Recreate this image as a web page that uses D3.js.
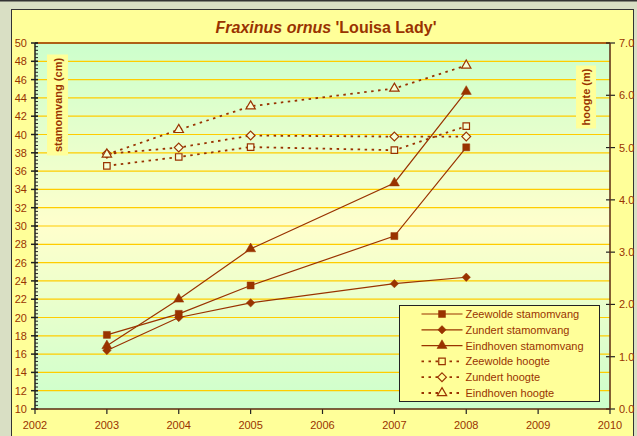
<!DOCTYPE html>
<html>
<head>
<meta charset="utf-8">
<script src="https://cdn.jsdelivr.net/npm/d3@7"></script>
<style>
  body { margin: 0; background: #d9dfc4; }
  svg { display: block; font-family: "Liberation Sans", Arial, sans-serif; }
</style>
</head>
<body>
<svg id="chart" width="637" height="436"></svg>
<script>
const years = [2003, 2004, 2005, 2007, 2008];
const zeewoldeStam = [18.1, 20.4, 23.5, 28.9, 38.6];
const zundertStam = [16.4, 20.0, 21.6, 23.7, 24.4];
const eindhovenStam = [16.9, 22.0, 27.5, 34.7, 44.7];
const zeewoldeHoogte = [4.65, 4.82, 5.01, 4.95, 5.41];
const zundertHoogte = [4.88, 5.0, 5.23, 5.21, 5.21];
const eindhovenHoogte = [4.87, 5.34, 5.79, 6.13, 6.57];

const xTicks = [2002, 2003, 2004, 2005, 2006, 2007, 2008, 2009, 2010];
const leftTicks = d3.range(10, 51, 2);
const rightTicks = [0, 1, 2, 3, 4, 5, 6, 7];

const series = [
  { name: "Zeewolde stamomvang", values: zeewoldeStam, axis: "left", marker: "square", filled: true },
  { name: "Zundert stamomvang", values: zundertStam, axis: "left", marker: "diamond", filled: true },
  { name: "Eindhoven stamomvang", values: eindhovenStam, axis: "left", marker: "triangle", filled: true },
  { name: "Zeewolde hoogte", values: zeewoldeHoogte, axis: "right", marker: "square", filled: false },
  { name: "Zundert hoogte", values: zundertHoogte, axis: "right", marker: "diamond", filled: false },
  { name: "Eindhoven hoogte", values: eindhovenHoogte, axis: "right", marker: "triangle", filled: false },
];

const brown = "#993300";
const plot = { left: 35, top: 43, right: 610, bottom: 409 };

const svg = d3.select("#chart");

// outer panel
svg.append("rect").attr("x", 0).attr("y", 0).attr("width", 637).attr("height", 1.5).attr("fill", "#333");
svg.append("rect")
  .attr("x", 11.5).attr("y", 9.5).attr("width", 622).attr("height", 440)
  .attr("fill", "#ffff99").attr("stroke", "#333").attr("stroke-width", 1);

const x = d3.scaleLinear().domain([2002, 2010]).range([plot.left, plot.right]);
const yLeft = d3.scaleLinear().domain([10, 50]).range([plot.bottom, plot.top]);
const yRight = d3.scaleLinear().domain([0, 7]).range([plot.bottom, plot.top]);

// plot background gradient
const grad = svg.append("defs").append("linearGradient")
  .attr("id", "bg").attr("x1", 0).attr("y1", 0).attr("x2", 0).attr("y2", 1);
grad.append("stop").attr("offset", "0%").attr("stop-color", "#ccffcc");
grad.append("stop").attr("offset", "50%").attr("stop-color", "#ffffcc");
grad.append("stop").attr("offset", "100%").attr("stop-color", "#ccffcc");

svg.append("rect")
  .attr("x", plot.left).attr("y", plot.top)
  .attr("width", plot.right - plot.left).attr("height", plot.bottom - plot.top)
  .attr("fill", "url(#bg)");

// gridlines
svg.append("g")
  .selectAll("line")
  .data(leftTicks.filter((d) => d > 10))
  .join("line")
  .attr("x1", plot.left).attr("x2", plot.right)
  .attr("y1", (d) => yLeft(d)).attr("y2", (d) => yLeft(d))
  .attr("stroke", "#ffcc00").attr("stroke-width", 1.2);

svg.append("line")
  .attr("x1", plot.left).attr("x2", plot.right)
  .attr("y1", plot.top).attr("y2", plot.top)
  .attr("stroke", brown).attr("stroke-width", 1.5);

// axis titles
function axisTitle(cx, cy, w, h, label) {
  svg.append("rect")
    .attr("x", cx - w / 2).attr("y", cy - h / 2).attr("width", w).attr("height", h)
    .attr("fill", "#ffff99");
  svg.append("text")
    .attr("transform", `translate(${cx + 4},${cy}) rotate(-90)`)
    .attr("text-anchor", "middle")
    .attr("font-size", 11).attr("font-weight", "bold")
    .attr("fill", brown)
    .text(label);
}
axisTitle(57.5, 105, 21, 101, "stamomvang (cm)");
axisTitle(586, 97, 20, 63, "hoogte (m)");

// markers: square, rotated square, triangle
function markerPath(type, filled) {
  if (type === "square") return d3.symbol().type(d3.symbolSquare).size(filled ? 49 : 42)();
  if (type === "diamond") {
    const r = filled ? 4.2 : 4.4;
    return `M0,${-r}L${r},0L0,${r}L${-r},0Z`;
  }
  return d3.symbol().type(d3.symbolTriangle).size(filled ? 44 : 38)();
}

// lines and markers
const lineFor = (s) => d3.line()
  .x((d, i) => x(years[i]))
  .y((d) => (s.axis === "left" ? yLeft(d) : yRight(d)));

series.forEach((s) => {
  svg.append("path")
    .datum(s.values)
    .attr("d", lineFor(s))
    .attr("fill", "none")
    .attr("stroke", brown)
    .attr("stroke-width", s.filled ? 1.2 : 1.8)
    .attr("stroke-dasharray", s.filled ? null : "2.5,4.5");
});

series.forEach((s) => {
  svg.append("g")
    .selectAll("path")
    .data(s.values)
    .join("path")
    .attr("transform", (d, i) => `translate(${x(years[i])},${s.axis === "left" ? yLeft(d) : yRight(d)})`)
    .attr("d", markerPath(s.marker, s.filled))
    .attr("fill", s.filled ? brown : "#f6ffd6")
    .attr("stroke", brown)
    .attr("stroke-width", s.filled ? 0.5 : 1.2);
});

// left axis
const leftAxis = svg.append("g");
leftAxis.selectAll("line.minor")
  .data(d3.range(10, 50.01, 0.4))
  .join("line")
  .attr("x1", plot.left).attr("x2", plot.left + 3)
  .attr("y1", (d) => yLeft(d)).attr("y2", (d) => yLeft(d))
  .attr("stroke", "#222").attr("stroke-width", 1);
leftAxis.selectAll("line.major")
  .data(leftTicks)
  .join("line")
  .attr("x1", plot.left - 4).attr("x2", plot.left + 3)
  .attr("y1", (d) => yLeft(d)).attr("y2", (d) => yLeft(d))
  .attr("stroke", "#222").attr("stroke-width", 1.5);
leftAxis.selectAll("text")
  .data(leftTicks)
  .join("text")
  .attr("x", plot.left - 8).attr("y", (d) => yLeft(d) + 4)
  .attr("text-anchor", "end").attr("font-size", 11).attr("fill", brown)
  .text((d) => d);
leftAxis.append("line")
  .attr("x1", plot.left).attr("x2", plot.left)
  .attr("y1", plot.top).attr("y2", plot.bottom)
  .attr("stroke", "#222").attr("stroke-width", 1.5);

// right axis
const rightAxis = svg.append("g");
rightAxis.selectAll("line")
  .data(rightTicks)
  .join("line")
  .attr("x1", plot.right - 4).attr("x2", plot.right + 5)
  .attr("y1", (d) => yRight(d)).attr("y2", (d) => yRight(d))
  .attr("stroke", "#222").attr("stroke-width", 1.2);
rightAxis.selectAll("text")
  .data(rightTicks)
  .join("text")
  .attr("x", plot.right + 9).attr("y", (d) => yRight(d) + 4)
  .attr("font-size", 11).attr("fill", brown)
  .text((d) => d3.format(".1f")(d));
rightAxis.append("line")
  .attr("x1", plot.right).attr("x2", plot.right)
  .attr("y1", plot.top).attr("y2", plot.bottom)
  .attr("stroke", "#5a2a10").attr("stroke-width", 1.5);

// x axis
const xAxis = svg.append("g");
xAxis.selectAll("line")
  .data(xTicks)
  .join("line")
  .attr("x1", (d) => x(d)).attr("x2", (d) => x(d))
  .attr("y1", plot.bottom).attr("y2", plot.bottom + 5)
  .attr("stroke", "#222").attr("stroke-width", 1.2);
xAxis.selectAll("text")
  .data(xTicks)
  .join("text")
  .attr("x", (d) => x(d)).attr("y", 429)
  .attr("text-anchor", "middle").attr("font-size", 11).attr("fill", brown)
  .text((d) => d);
xAxis.append("line")
  .attr("x1", plot.left).attr("x2", plot.right)
  .attr("y1", plot.bottom).attr("y2", plot.bottom)
  .attr("stroke", "#5a2a10").attr("stroke-width", 1.5);

// title
const title = svg.append("text")
  .attr("x", 326).attr("y", 33)
  .attr("text-anchor", "middle")
  .attr("font-size", 16).attr("font-weight", "bold")
  .attr("fill", brown);
title.append("tspan").attr("font-style", "italic").text("Fraxinus ornus");
title.append("tspan").text(" 'Louisa Lady'");

// legend
const legend = svg.append("g").attr("transform", "translate(399.5,305.5)");
legend.append("rect")
  .attr("width", 200).attr("height", 96)
  .attr("fill", "#ffff99").attr("stroke", "#222").attr("stroke-width", 1);

const rows = legend.selectAll("g.row")
  .data(series)
  .join("g")
  .attr("transform", (d, i) => `translate(0,${8.5 + i * 15.8})`);
rows.append("line")
  .attr("x1", 22).attr("x2", 63)
  .attr("stroke", brown)
  .attr("stroke-width", (d) => (d.filled ? 1.2 : 1.8))
  .attr("stroke-dasharray", (d) => (d.filled ? null : "2.5,4.5"));
rows.append("path")
  .attr("transform", "translate(42.5,0)")
  .attr("d", (d) => markerPath(d.marker, d.filled))
  .attr("fill", (d) => (d.filled ? brown : "#ffff99"))
  .attr("stroke", brown)
  .attr("stroke-width", (d) => (d.filled ? 0.5 : 1.2));
rows.append("text")
  .attr("x", 66).attr("y", 4)
  .attr("font-size", 11).attr("fill", brown)
  .text((d) => d.name);
</script>
</body>
</html>
